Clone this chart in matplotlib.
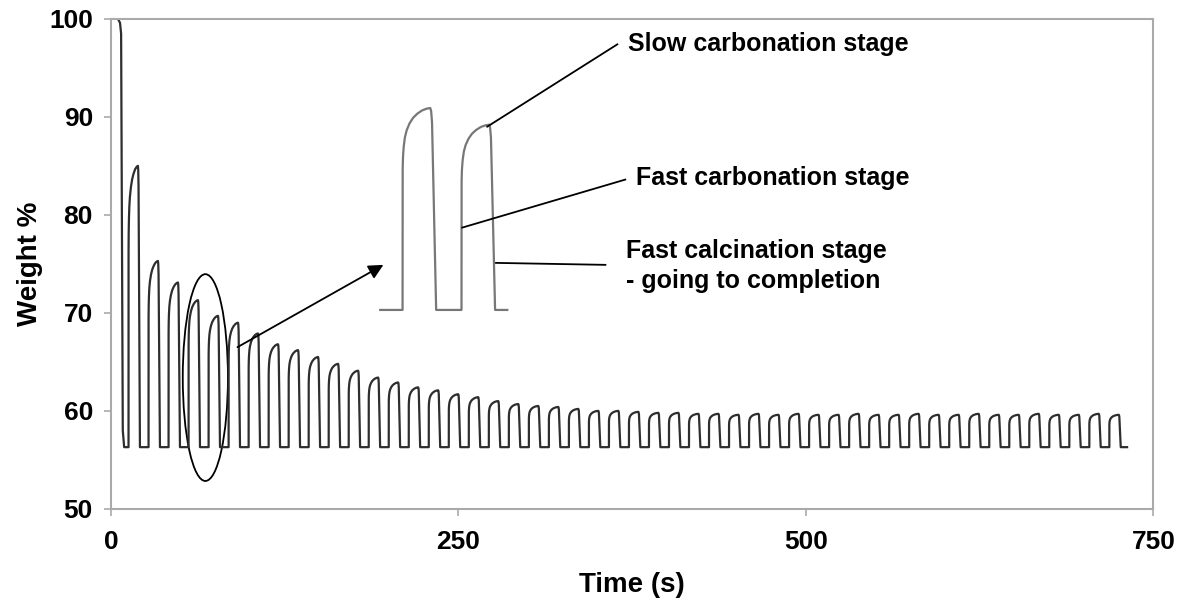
import matplotlib
matplotlib.use("Agg")
import matplotlib.pyplot as plt
from matplotlib.patches import Ellipse
import numpy as np

plt.rcParams['font.family'] = ['Liberation Sans', 'DejaVu Sans']
plt.rcParams['font.weight'] = 'bold'

# --- data ---
# first decomposition step (weight stays at 100 % then drops)
init_t = [0.0, 5.0, 6.5, 7.3, 8.5, 9.5]
init_w = [100.0, 100.0, 99.6, 98.5, 58.0, 56.3]

baseline = 56.3

peak_t = [19.4, 33.8, 48.2, 62.6, 77.0, 91.4, 105.8, 120.2, 134.6, 149.0,
          163.4, 177.8, 192.2, 206.6, 221.0, 235.4, 249.8, 264.2, 278.6, 293.0,
          307.4, 321.8, 336.2, 350.6, 365.0, 379.4, 393.8, 408.2, 422.6, 437.0,
          451.4, 465.8, 480.2, 494.6, 509.0, 523.4, 537.8, 552.2, 566.6, 581.0,
          595.4, 609.8, 624.2, 638.6, 653.0, 667.4, 681.8, 696.2, 710.6, 725.0]
peak_w = [85.0, 75.3, 73.1, 71.3, 69.7, 69.0, 67.9, 66.8, 66.2, 65.5,
          64.8, 64.1, 63.4, 62.9, 62.4, 62.1, 61.7, 61.4, 61.0, 60.7,
          60.5, 60.4, 60.2, 60.0, 60.0, 59.9, 59.8, 59.8, 59.7, 59.7,
          59.6, 59.7, 59.6, 59.7, 59.6, 59.6, 59.7, 59.6, 59.6, 59.7,
          59.6, 59.6, 59.7, 59.6, 59.6, 59.7, 59.6, 59.6, 59.7, 59.6]
period = 14.4
end_t = 731.0

# one cycle shape: phase relative to peak
# as fraction of the period, height as fraction of the peak above baseline
cycle_phase = [-0.47, -0.468, -0.462, -0.45, -0.43, -0.40, -0.35, -0.29,
               -0.22, -0.14, -0.06, 0.0, 0.015, 0.03, 0.10]
cycle_frac = [0.0, 0.70, 0.76, 0.81, 0.855, 0.89, 0.925, 0.952,
              0.972, 0.988, 0.997, 1.0, 0.985, 0.93, 0.0]

# inset (two cycles enlarged)
inset_start = 193.7
inset_end = 285.1
inset_base = 70.3
inset_peak_t = [229.7, 272.1]
inset_peak_w = [90.9, 89.2]
inset_period = 42.4

# stage labels: text, leader start on the inset curve, leader end, text anchor
stage_text = ['Slow carbonation stage', 'Fast carbonation stage',
              'Fast calcination stage\n- going to completion']
leader_from = [(270.7, 89.0), (252.7, 78.7), (277.0, 75.1)]
leader_to = [(364.3, 97.4), (370.0, 83.6), (355.7, 74.9)]
text_at = [(372.0, 97.4), (378.0, 83.8), (370.8, 74.8)]


def build_trace(peaks_t, peaks_w, base, per):
    xs, ys = [], []
    for tp, wp in zip(peaks_t, peaks_w):
        for ph, fr in zip(cycle_phase, cycle_frac):
            xs.append(tp + ph * per)
            ys.append(base + fr * (wp - base))
    return xs, ys


fig = plt.figure(figsize=(11.78, 6.08), dpi=100)
ax = fig.add_axes([0.0942, 0.163, 0.885, 0.806])

cx, cy = build_trace(peak_t, peak_w, baseline, period)
tx = init_t + cx + [end_t]
ty = init_w + cy + [baseline]
ax.plot(tx, ty, color='#2e2e2e', lw=1.6, solid_joinstyle='round')

ix, iy = build_trace(inset_peak_t, inset_peak_w, inset_base, inset_period)
ax.plot([inset_start] + ix + [inset_end], [inset_base] + iy + [inset_base],
        color='#777777', lw=1.6, solid_joinstyle='round')

# circled cycles and arrow to the inset
ax.add_patch(Ellipse((67.9, 63.4), 32.5, 21.1, fill=False, ec='black', lw=1.3))
ax.annotate('', xy=(196, 74.9), xytext=(91, 66.5),
            arrowprops=dict(arrowstyle='-|>', color='black', lw=1.3,
                            mutation_scale=22, shrinkA=0, shrinkB=0))

for txt, p0, p1, pt in zip(stage_text, leader_from, leader_to, text_at):
    ax.plot([p0[0], p1[0]], [p0[1], p1[1]], color='black', lw=1.3)
    ax.text(pt[0], pt[1], txt, fontsize=18, fontweight='bold',
            va='center', ha='left', linespacing=1.3)

ax.set_xlim(0, 750)
ax.set_ylim(50, 100)
ax.set_xticks([0, 250, 500, 750])
ax.set_yticks([50, 60, 70, 80, 90, 100])
for s in ax.spines.values():
    s.set_color('#aaaaaa')
    s.set_linewidth(1.5)
ax.tick_params(axis='both', colors='#aaaaaa', length=5, width=1.2,
               labelsize=19, labelcolor='black')
ax.tick_params(axis='y', pad=8)
ax.tick_params(axis='x', pad=10)
for lab in ax.get_xticklabels() + ax.get_yticklabels():
    lab.set_fontweight('bold')

ax.set_xlabel('Time (s)', fontsize=20, fontweight='bold', va='center')
ax.set_ylabel('Weight %', fontsize=20, fontweight='bold', va='center')
ax.xaxis.set_label_coords(0.5, -0.155)
ax.yaxis.set_label_coords(-0.078, 0.5)

fig.savefig('out.png', dpi=100)
